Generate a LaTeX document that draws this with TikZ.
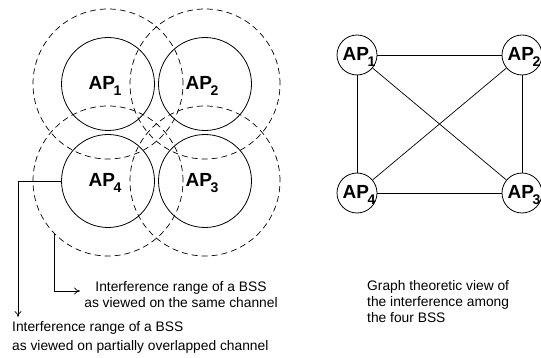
\documentclass[tikz,border=0pt]{standalone}
\usepackage{fontspec}
\setmainfont{Liberation Sans}
\usepackage{tikz}
\usetikzlibrary{positioning, calc, arrows.meta}

\newcommand{\apname}[1]{AP\kern-1.5pt\raisebox{-6pt}{\fontsize{14}{14}\selectfont #1}}

\tikzset{
  apcirc/.style={draw, circle, minimum size=93pt, inner sep=0pt, line width=0.8pt},
  rangecirc/.style={draw, circle, minimum size=150pt, inner sep=0pt, line width=0.7pt, dash pattern=on 6pt off 4pt},
  graphcirc/.style={draw, circle, minimum size=40pt, inner sep=0pt, line width=0.8pt},
  aplabel/.style={font=\fontsize{19}{20}\selectfont\bfseries, inner sep=0pt},
  smalltext/.style={font=\fontsize{13.8}{16}\selectfont, inner sep=0pt}
}

\begin{document}
\begin{tikzpicture}[x=1pt,y=-1pt]
      \useasboundingbox (0,0) rectangle (541,358);
      % interference ranges
      \node[rangecirc] (r1) at (108,84) {};
      \node[rangecirc] (r2) at (205,84) {};
      \node[rangecirc] (r3) at (205,181) {};
      \node[rangecirc] (r4) at (108,181) {};
      % access points
      \node[apcirc] (s1) at (108,84) {};
      \node[apcirc] (s2) at (205,84) {};
      \node[apcirc] (s3) at (205,181) {};
      \node[apcirc] (s4) at (108,181) {};
      \node[aplabel] (l1) at ($(s1)+(-3,2)$) {\apname{1}};
      \node[aplabel] (l2) at ($(s2)+(-3,2)$) {\apname{2}};
      \node[aplabel] (l3) at ($(s3)+(-3,2)$) {\apname{3}};
      \node[aplabel] (l4) at ($(s4)+(-3,2)$) {\apname{4}};
      % pointers
      \coordinate (c1) at (18,317);
      \coordinate (c2) at (80,291);
      \draw[line width=0.7pt,-{To[length=6pt,width=7pt]}] (s4.west) -| (c1);
      \draw[line width=0.7pt,-{To[length=6pt,width=7pt]}] (r4.225) |- (c2);
      \node[smalltext, align=center] (n1) at (181,294.5) {Interference range of a BSS\\as viewed on the same channel};
      \node[smalltext, align=left, anchor=west, font=\fontsize{13.8}{19}\selectfont] (n2) at (12,337.5) {Interference range of a BSS\\as viewed on partially overlapped channel};
      % graph view
      \node[graphcirc] (g1) at (357,55) {};
      \node[graphcirc] (g2) at (522,55) {};
      \node[graphcirc] (g3) at (522,193) {};
      \node[graphcirc] (g4) at (357,193) {};
      \draw[line width=0.7pt] (g1) -- (g2);
      \draw[line width=0.7pt] (g1) -- (g4);
      \draw[line width=0.7pt] (g2) -- (g3);
      \draw[line width=0.7pt] (g4) -- (g3);
      \draw[line width=0.7pt] (g1) -- (g3);
      \draw[line width=0.7pt] (g2) -- (g4);
      \node[aplabel] (t1) at ($(g1)+(2,2)$) {\apname{1}};
      \node[aplabel] (t2) at ($(g2)+(2,2)$) {\apname{2}};
      \node[aplabel] (t3) at ($(g3)+(2,2)$) {\apname{3}};
      \node[aplabel] (t4) at ($(g4)+(2,2)$) {\apname{4}};
      \node[smalltext, align=left, anchor=west] (n3) at (367,302) {Graph theoretic view of\\the interference among\\the four BSS};
\end{tikzpicture}
\end{document}
